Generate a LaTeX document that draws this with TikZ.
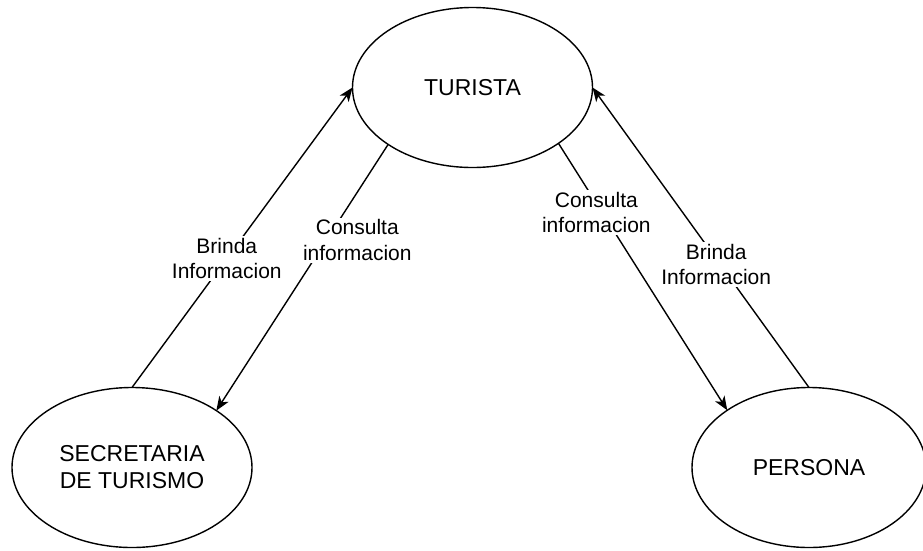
\documentclass[tikz,border=0pt]{standalone}
\usepackage{fontspec}
\setmainfont{Liberation Sans}
\usetikzlibrary{shapes.geometric}
\usetikzlibrary{arrows.meta}

\begin{document}
\begin{tikzpicture}[
    x=1pt, y=-1pt,
    entity/.style={ellipse, draw=black, fill=white, line width=1.4pt, minimum width=240pt, minimum height=160pt, inner sep=0pt, outer sep=0pt, align=center, font=\fontsize{23}{27}\selectfont},
    flow/.style={line width=1.4pt, -{Stealth[length=14pt, width=11pt, inset=4pt]}},
    tag/.style={fill=white, align=center, inner sep=2pt, font=\fontsize{21}{25.5}\selectfont},
]
    \useasboundingbox (0,0) rectangle (923,550);

    \node[entity] (Turista) at (472.5,87.5) {TURISTA};
    \node[entity] (Secretaria) at (132,467.5) {SECRETARIA\\DE TURISMO};
    \node[entity, minimum width=234pt] (Persona) at (809,467.5) {PERSONA};

    \draw[flow] (Secretaria.north) -- (Turista.west) node[tag, pos=0.43] {Brinda\\Informacion};
    \draw[flow] (Turista.214) -- (Secretaria.34) node[tag, pos=0.36, xshift=31pt] {Consulta\\informacion};

    \draw[flow] (Turista.327) -- (Persona.145) node[tag, pos=0.26, xshift=-6pt] {Consulta\\informacion};
    \draw[flow] (Persona.north) -- (Turista.east) node[tag, pos=0.41, xshift=-4pt] {Brinda\\Informacion};
\end{tikzpicture}
\end{document}
